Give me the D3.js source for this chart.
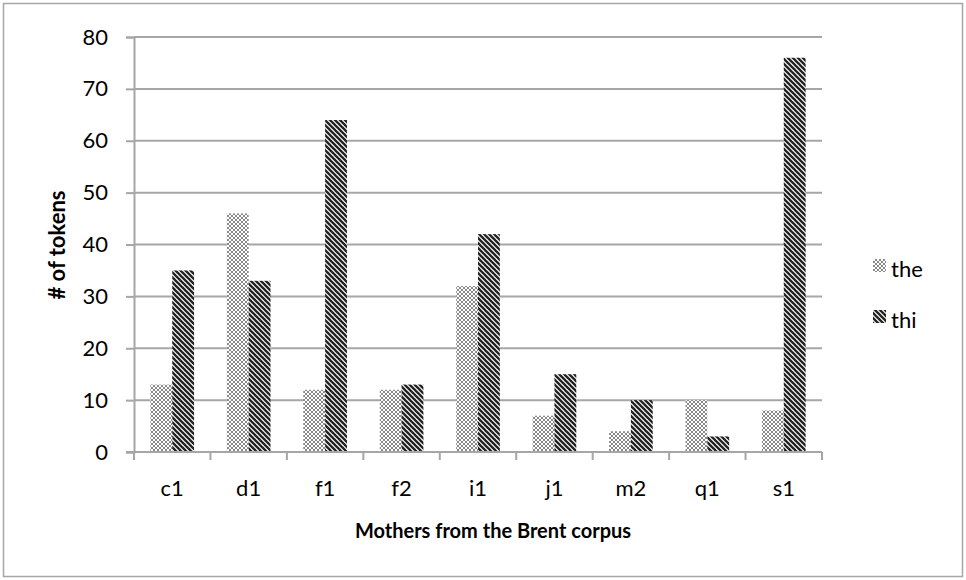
<!DOCTYPE html>
<html><head><meta charset="utf-8">
<script src="https://cdn.jsdelivr.net/npm/d3@7"></script>
<style>body{margin:0;background:#fff}svg{display:block}text{font-family:Lato,"Open Sans",sans-serif;fill:#000}</style>
</head><body><svg id="c" width="966" height="580"></svg>
<script>
const categories = ["c1","d1","f1","f2","i1","j1","m2","q1","s1"];
const seriesNames = ["the","thi"];
const theValues = [13,46,12,12,32,7,4,10,8];
const thiValues = [35,33,64,13,42,15,10,3,76];
const yTicks = [0,10,20,30,40,50,60,70,80];

const svg = d3.select("#c");
const defs = svg.append("defs");
// crosshatch dot pattern
const p1 = defs.append("pattern").attr("id","pThe").attr("patternUnits","userSpaceOnUse").attr("width",4).attr("height",4);
p1.append("rect").attr("width",4).attr("height",4).attr("fill","#fff");
p1.append("path").attr("d","M0,0L4,4M4,0L0,4").attr("stroke","#8a8a8a").attr("stroke-width",1);
// dark diagonal stripes
const p2 = defs.append("pattern").attr("id","pThi").attr("patternUnits","userSpaceOnUse").attr("width",5).attr("height",5);
p2.append("rect").attr("width",5).attr("height",5).attr("fill","#fff");
p2.append("path").attr("d","M-1,-1L6,6M-1,4L1,6M4,-1L6,1").attr("stroke","#222").attr("stroke-width",2.3);

svg.append("rect").attr("x",3.5).attr("y",3.5).attr("width",959).attr("height",573).attr("fill","#fff").attr("stroke","#a6a6a6").attr("stroke-width",1.5);

const L=134, R=822, T=37, B=452;
const FS=22;
const x = d3.scaleBand().domain(categories).range([L,R]);
const y = d3.scaleLinear().domain([0,80]).range([B,T]);
const bw = x.bandwidth()/3.5;

const g = svg.append("g");
// gridlines
g.selectAll(".grid").data(yTicks.slice(1)).enter().append("line")
 .attr("x1",L).attr("x2",R).attr("y1",d=>y(d)).attr("y2",d=>y(d))
 .attr("stroke","#a6a6a6").attr("stroke-width",2);

const data = categories.map((c,i)=>({c, v:[theValues[i],thiValues[i]]}));
const fills=["url(#pThe)","url(#pThi)"];
[0,1].forEach(s=>{
  g.selectAll(".b"+s).data(data).enter().append("rect")
   .attr("x",d=>x(d.c)+0.75*bw+s*bw).attr("width",bw)
   .attr("y",d=>y(d.v[s])).attr("height",d=>y(0)-y(d.v[s]))
   .attr("fill",fills[s]);
});

// y axis
const ya = d3.axisLeft(y).tickValues(yTicks).tickSize(8).tickPadding(18);
const yg = svg.append("g").attr("transform",`translate(${L},0)`).call(ya);
yg.select(".domain").attr("stroke","#a6a6a6").attr("stroke-width",2);
yg.selectAll(".tick line").attr("stroke","#a6a6a6").attr("stroke-width",2);
yg.selectAll("text").attr("font-size",FS).attr("font-family","Lato,'Open Sans',sans-serif");

// x axis
const xa = d3.axisBottom(x).tickSize(0).tickPadding(28);
const xg = svg.append("g").attr("transform",`translate(0,${B})`).call(xa);
xg.select(".domain").remove();
xg.selectAll("text").attr("font-size",FS).attr("font-family","Lato,'Open Sans',sans-serif");
svg.append("line").attr("x1",L-8).attr("x2",R).attr("y1",B).attr("y2",B).attr("stroke","#a6a6a6").attr("stroke-width",2);
const bounds = categories.map(c=>x(c)).concat([R]);
svg.selectAll(".xt").data(bounds).enter().append("line")
 .attr("x1",d=>d).attr("x2",d=>d).attr("y1",B).attr("y2",B+8).attr("stroke","#a6a6a6").attr("stroke-width",2);

// titles
svg.append("text").attr("x",493).attr("y",538).attr("text-anchor","middle").attr("font-size",20).attr("font-weight","bold").text("Mothers from the Brent corpus");
svg.append("text").attr("transform",`translate(65,245) rotate(-90)`).attr("text-anchor","middle").attr("font-size",22).attr("font-weight","bold").text("# of tokens");

// legend
const lg = svg.append("g");
seriesNames.forEach((n,i)=>{
  const yy = 259 + i*51;
  lg.append("rect").attr("x",873).attr("y",yy).attr("width",13).attr("height",13).attr("fill",fills[i]);
  lg.append("text").attr("x",891).attr("y",yy+18).attr("font-size",FS).text(n);
});
</script></body></html>
